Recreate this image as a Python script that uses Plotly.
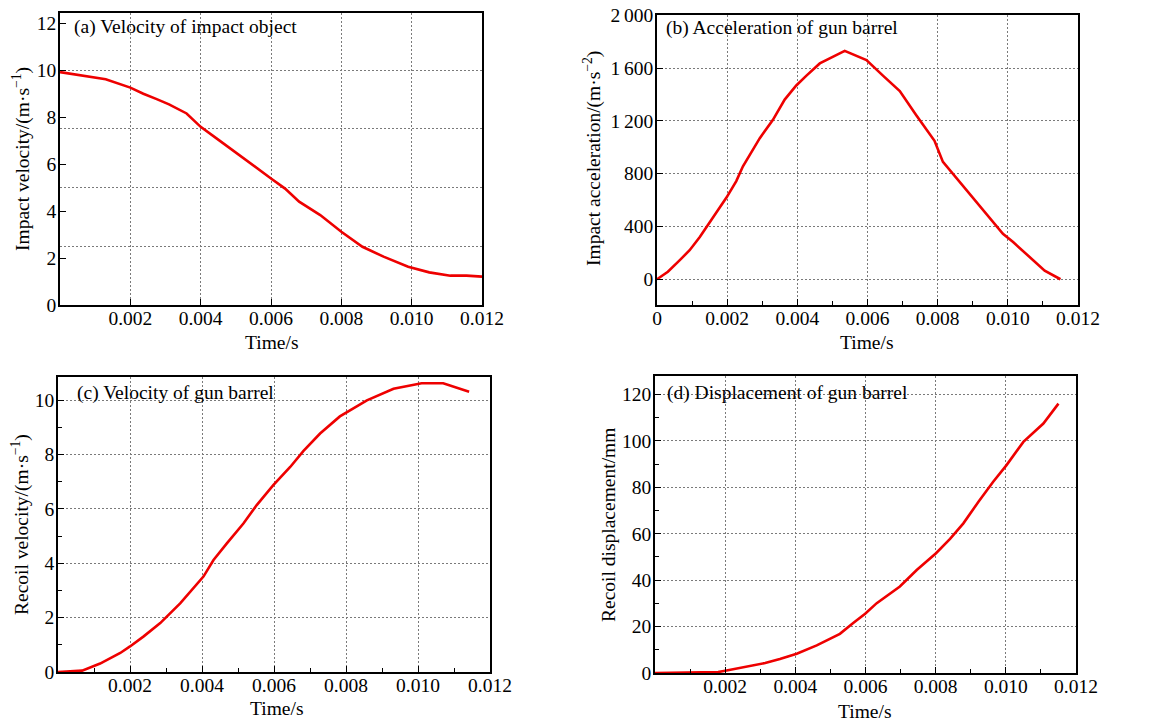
import plotly.graph_objects as go

W, H = 1166, 724
OFF = 8            # page body margin of the browser
PW, PH = W - OFF, H - OFF
FONT = "Liberation Serif"

# ---------------- data ----------------
# (a) Velocity of impact object
t_a = [0.0, 0.00085, 0.0013, 0.0020, 0.00237, 0.00275, 0.0031, 0.0036, 0.0040,
       0.00446, 0.0049, 0.0054, 0.0060, 0.0064, 0.0068, 0.0074, 0.0080, 0.0086,
       0.0092, 0.0099, 0.0105, 0.0111, 0.01156, 0.0120]
v_a = [9.92, 9.72, 9.62, 9.26, 9.0, 8.77, 8.55, 8.16, 7.59,
       7.09, 6.6, 6.03, 5.39, 4.96, 4.4, 3.83, 3.12, 2.48,
       2.06, 1.63, 1.39, 1.25, 1.25, 1.21]

# (b) Acceleration of gun barrel
t_b = [0.0, 0.00031, 0.00065, 0.00093, 0.00122, 0.0016, 0.00198, 0.00226, 0.00245,
       0.00293, 0.0033, 0.00364, 0.00397, 0.00426, 0.00464, 0.00535, 0.00597,
       0.00644, 0.00692, 0.00739, 0.00791, 0.00815, 0.00853, 0.0090, 0.00939,
       0.00986, 0.01015, 0.01062, 0.01105, 0.0115]
a_b = [0, 57, 145, 220, 320, 469, 619, 744, 856,
       1069, 1206, 1361, 1468, 1543, 1635, 1730, 1660,
       1543, 1426, 1243, 1049, 889, 769, 619, 494,
       345, 282, 170, 65, 0]

# (c) Velocity of gun barrel
t_c = [0.0, 0.00067, 0.00117, 0.00173, 0.0020, 0.00238, 0.00284, 0.0034, 0.00404,
       0.00432, 0.00469, 0.00515, 0.00552, 0.00598, 0.00645, 0.00682, 0.00728,
       0.00783, 0.00858, 0.00932, 0.0101, 0.0107, 0.01142]
v_c = [0.0, 0.05, 0.31, 0.70, 0.94, 1.31, 1.80, 2.53, 3.51,
       4.12, 4.73, 5.46, 6.14, 6.87, 7.54, 8.13, 8.77,
       9.4, 9.99, 10.42, 10.62, 10.62, 10.31]

# (d) Displacement of gun barrel
t_d = [0.0, 0.0010, 0.0018, 0.00204, 0.00242, 0.00314, 0.00356, 0.00404, 0.00461,
       0.00527, 0.00565, 0.00599, 0.00632, 0.00698, 0.00746, 0.00801, 0.00841,
       0.00879, 0.00922, 0.00964, 0.01002, 0.0105, 0.01107, 0.0115]
s_d = [0.0, 0.3, 0.4, 1.1, 2.1, 4.3, 6.0, 8.3, 11.9,
       16.9, 21.5, 25.5, 30.1, 37.3, 44.4, 51.6, 57.8,
       64.5, 73.8, 82.4, 89.6, 99.6, 107.5, 116.1]

time_ticks = [0.002, 0.004, 0.006, 0.008, 0.010, 0.012]
time_ticks_b = [0, 0.002, 0.004, 0.006, 0.008, 0.010, 0.012]
time_text_b = ["0", "0.002", "0.004", "0.006", "0.008", "0.010", "0.012"]
ticks_a = [0, 2, 4, 6, 8, 10, 12]
grid_a = [2.5, 5, 7.5, 10]
ticks_b = [0, 400, 800, 1200, 1600, 2000]
ticks_b_text = ["0", "400", "800", "1\u2009200", "1\u2009600", "2\u2009000"]
ticks_c = [0, 2, 4, 6, 8, 10]
ticks_d = [0, 20, 40, 60, 80, 100, 120]

panel_titles = ["(a) Velocity of impact object", "(b) Acceleration of gun barrel",
                "(c) Velocity of gun barrel", "(d) Displacement of gun barrel"]
y_titles = ["Impact velocity/(m\u00b7s<sup>\u22121</sup>)",
            "Impact acceleration/(m\u00b7s<sup>\u22122</sup>)",
            "Recoil velocity/(m\u00b7s<sup>\u22121</sup>)",
            "Recoil displacement/mm"]
x_title = "Time/s"

# ---------------- layout helpers (screen pixels -> paper fractions) ----------------
def px(x):
    return (x - OFF) / PW

def py(y):
    return 1 - (y - OFF) / PH

def xdom(x0, x1):
    return [px(x0), px(x1)]

def ydom(top, bottom):
    return [py(bottom), py(top)]

FS = 19.5
GRID = "#7a7a7a"
DASH = "2px,2px"
tickfont = dict(family=FONT, size=FS, color="black")
common = dict(showline=True, linecolor="black", linewidth=1.5, mirror=True,
              ticks="inside", ticklen=6, tickwidth=1.2, tickcolor="black",
              showgrid=True, gridcolor=GRID, griddash=DASH, gridwidth=1,
              zeroline=False, tickfont=tickfont, fixedrange=True, automargin=False,
              ticklabeloverflow="allow")
xcommon = dict(common, ticklabelstandoff=-5)
ycommon = dict(common, ticklabelstandoff=-2)
minor_x = dict(dtick=0.001, ticks="inside", ticklen=4, tickcolor="black", showgrid=False)

RED = "#ee0000"
line = dict(color=RED, width=2.6)

fig = go.Figure()
fig.add_trace(go.Scatter(x=t_a, y=v_a, mode="lines", line=line, xaxis="x", yaxis="y"))
fig.add_trace(go.Scatter(x=[], y=[], mode="lines", xaxis="x", yaxis="y5", hoverinfo="skip"))
fig.add_trace(go.Scatter(x=t_b, y=a_b, mode="lines", line=line, xaxis="x2", yaxis="y2"))
fig.add_trace(go.Scatter(x=t_c, y=v_c, mode="lines", line=line, xaxis="x3", yaxis="y3"))
fig.add_trace(go.Scatter(x=t_d, y=s_d, mode="lines", line=line, xaxis="x4", yaxis="y4"))

fig.update_layout(
    width=PW, height=PH, margin=dict(l=0, r=0, t=0, b=0, autoexpand=False),
    paper_bgcolor="white", plot_bgcolor="white", showlegend=False,
    font=dict(family=FONT, color="black"),
    # (a)
    xaxis=dict(xcommon, domain=xdom(60, 482), range=[0, 0.012], tickmode="array",
               tickvals=time_ticks, tickformat=".3f", anchor="y"),
    yaxis=dict(ycommon, domain=ydom(13, 305), range=[0, 12.44], tickmode="array",
               tickvals=ticks_a, showgrid=False, anchor="x"),
    yaxis5=dict(overlaying="y", anchor="x", range=[0, 12.44], tickmode="array",
                tickvals=grid_a, showgrid=True, gridcolor=GRID, griddash=DASH,
                gridwidth=1, showticklabels=False, ticks="", showline=False,
                zeroline=False, fixedrange=True, automargin=False),
    # (b)
    xaxis2=dict(xcommon, domain=xdom(657, 1078), range=[0, 0.012], tickmode="array",
                tickvals=time_ticks_b, ticktext=time_text_b, anchor="y2", minor=minor_x),
    yaxis2=dict(ycommon, domain=ydom(15, 305), range=[-195, 2002], tickmode="array",
                tickvals=ticks_b, ticktext=ticks_b_text, anchor="x2"),
    # (c)
    xaxis3=dict(xcommon, domain=xdom(58, 490), range=[0, 0.012], tickmode="array",
                tickvals=time_ticks, tickformat=".3f", anchor="y3", minor=minor_x),
    yaxis3=dict(ycommon, domain=ydom(377, 672), range=[0, 10.85], tickmode="array",
                tickvals=ticks_c, anchor="x3",
                minor=dict(dtick=1, ticks="inside", ticklen=4, tickcolor="black", showgrid=False)),
    # (d)
    xaxis4=dict(xcommon, domain=xdom(655, 1076), range=[0, 0.012], tickmode="array",
                tickvals=time_ticks, tickformat=".3f", anchor="y4", minor=minor_x),
    yaxis4=dict(ycommon, domain=ydom(376, 673), range=[0, 128], tickmode="array",
                tickvals=ticks_d, anchor="x4",
                minor=dict(dtick=10, ticks="inside", ticklen=4, tickcolor="black", showgrid=False)),
)

ann_font = dict(family=FONT, size=FS, color="black")
# panel titles (screen pixel positions of left edge / vertical centre)
title_pos = [(72, 27), (664, 28), (75, 393), (665, 393)]
for txt, (x, y) in zip(panel_titles, title_pos):
    fig.add_annotation(text=txt, x=px(x), y=py(y), xref="paper", yref="paper",
                       xanchor="left", yanchor="middle", showarrow=False, font=ann_font)

ytitle_pos = [(21, 159), (592, 159), (20, 525), (608, 525)]
for txt, (x, y) in zip(y_titles, ytitle_pos):
    fig.add_annotation(text=txt, x=px(x), y=py(y), xref="paper", yref="paper",
                       xanchor="center", yanchor="middle", textangle=-90, borderpad=0,
                       showarrow=False, font=ann_font)

xtitle_pos = [(271, 343), (866, 343), (276, 708), (864, 711)]
for (x, y) in xtitle_pos:
    fig.add_annotation(text=x_title, x=px(x), y=py(y), xref="paper", yref="paper",
                       xanchor="center", yanchor="middle", showarrow=False, font=ann_font)

fig.write_html("out.html")
